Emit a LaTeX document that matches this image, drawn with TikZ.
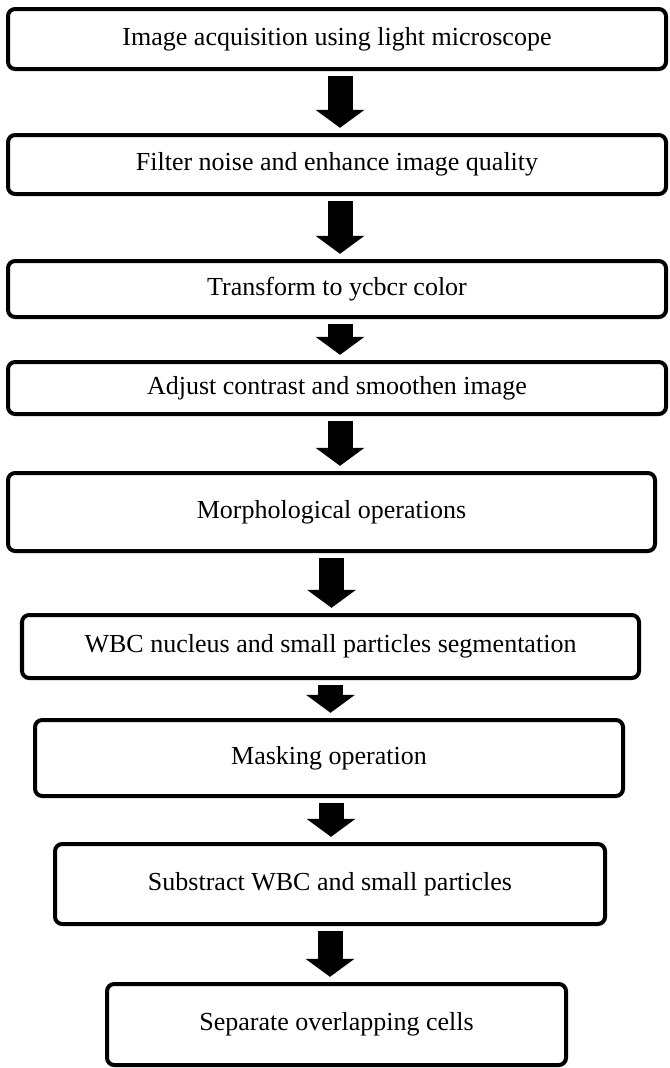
\documentclass[tikz,border=0pt]{standalone}
\usepackage{fontspec}
\setmainfont{Liberation Serif}
\usepackage{tikz}
\usetikzlibrary{arrows.meta}
\tikzset{
  stage/.style={draw=black, line width=0.1cm, rounded corners=0.18cm, fill=white,
    align=center, inner sep=0pt, font=\fontsize{18.5}{22}\selectfont},
  flow/.style={black, line width=0.625cm, shorten <=0.13cm, shorten >=0.13cm,
    -{Triangle[width=1.225cm, length=0.45cm, line width=0pt]}}
}

\begin{document}
\begin{tikzpicture}
        \useasboundingbox (0,0) rectangle (16.75,-26.7);
        \node[stage, minimum width=16.45cm, minimum height=1.5cm] (acq) at (8.425,-0.975) {Image acquisition using light microscope};
        \node[stage, minimum width=16.45cm, minimum height=1.475cm] (filt) at (8.425,-4.1125) {Filter noise and enhance image quality};
        \node[stage, minimum width=16.45cm, minimum height=1.4cm] (ycbcr) at (8.425,-7.225) {Transform to ycbcr color};
        \node[stage, minimum width=16.45cm, minimum height=1.3cm] (contr) at (8.425,-9.7) {Adjust contrast and smoothen image};
        \node[stage, minimum width=16.175cm, minimum height=1.95cm] (morph) at (8.2875,-12.8) {Morphological operations};
        \node[stage, minimum width=15.425cm, minimum height=1.575cm] (segm) at (8.2625,-16.1625) {WBC nucleus and small particles segmentation};
        \node[stage, minimum width=14.7cm, minimum height=1.9cm] (mask) at (8.225,-18.95) {Masking operation};
        \node[stage, minimum width=13.75cm, minimum height=2cm] (subs) at (8.25,-22.1) {Substract WBC and small particles};
        \node[stage, minimum width=11.475cm, minimum height=2.025cm] (sepa) at (8.4125,-25.6125) {Separate overlapping cells};
        \draw[flow] ([xshift=0.075cm]acq.south) -- ([xshift=0.075cm]acq.south |- filt.north);
        \draw[flow] ([xshift=0.075cm]filt.south) -- ([xshift=0.075cm]filt.south |- ycbcr.north);
        \draw[flow] ([xshift=0.075cm]ycbcr.south) -- ([xshift=0.075cm]ycbcr.south |- contr.north);
        \draw[flow] ([xshift=0.075cm]contr.south) -- ([xshift=0.075cm]contr.south |- morph.north);
        \draw[flow] (morph.south) -- (morph.south |- segm.north);
        \draw[flow] (segm.south) -- (segm.south |- mask.north);
        \draw[flow] ([xshift=0.05cm]mask.south) -- ([xshift=0.05cm]mask.south |- subs.north);
        \draw[flow] (subs.south) -- (subs.south |- sepa.north);
\end{tikzpicture}
\end{document}
